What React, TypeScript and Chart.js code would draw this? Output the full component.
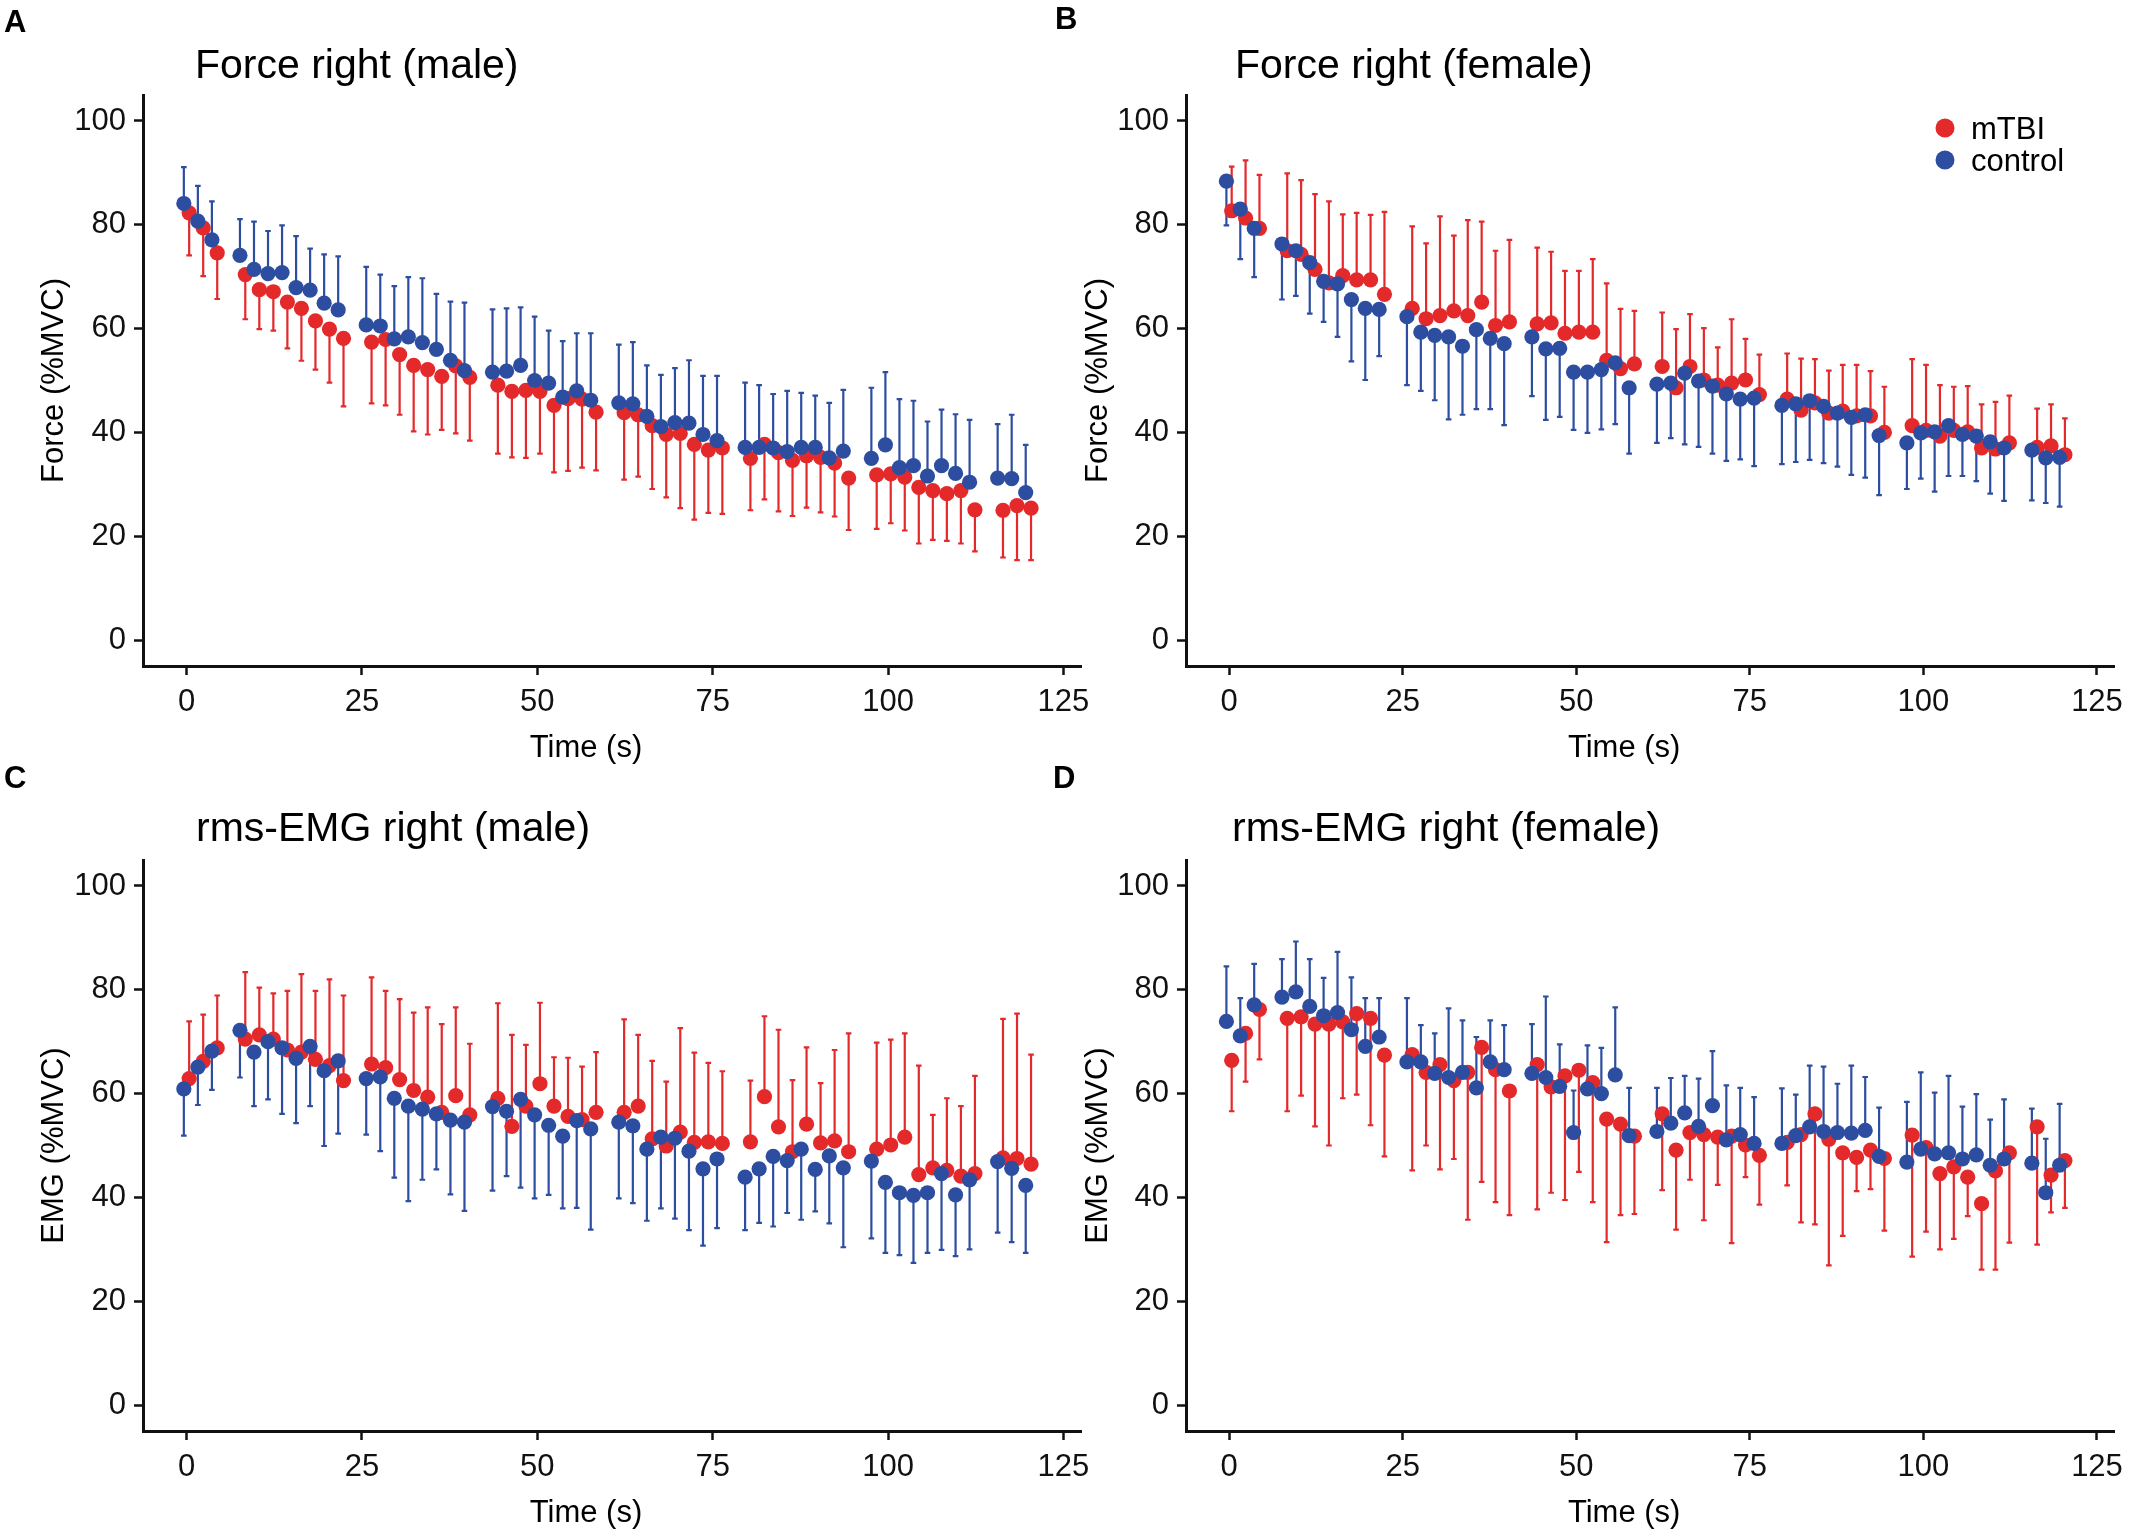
import { useEffect, useRef } from 'react';
import { Chart, registerables } from 'chart.js';

Chart.register(...registerables);

const W = 2132;
const H = 1530;
const FONT = '"Liberation Sans", Arial, Helvetica, sans-serif';
const RED = '#E4292B';
const BLUE = '#2C4DA0';
const INK = '#111111';

// ---- data ----
const TIME = [0, 2, 4, 8, 10, 12, 14, 16, 18, 20, 22, 26, 28, 30, 32, 34, 36, 38, 40, 44, 46, 48, 50, 52, 54, 56, 58, 62, 64, 66, 68, 70, 72, 74, 76, 80, 82, 84, 86, 88, 90, 92, 94, 98, 100, 102, 104, 106, 108, 110, 112, 116, 118, 120];
const X_TICKS = [0, 25, 50, 75, 100, 125];
const Y_TICKS = [0, 20, 40, 60, 80, 100];
const SERIES = ['mTBI', 'control'];

// Panel A: Force right (male)
const A_MTBI = [82.3, 79.4, 74.6, 70.4, 67.5, 67.1, 65.1, 63.9, 61.5, 59.9, 58.1, 57.4, 57.9, 55.0, 52.9, 52.1, 50.8, 52.8, 50.6, 49.1, 47.9, 48.1, 47.9, 45.2, 46.5, 46.4, 43.9, 43.8, 43.4, 41.3, 39.6, 39.8, 37.7, 36.6, 37.0, 35.0, 37.7, 36.1, 34.6, 35.5, 35.2, 34.1, 31.2, 31.8, 32.0, 31.4, 29.4, 28.8, 28.2, 28.8, 25.1, 25.0, 25.9, 25.4];
const A_MTBI_SD = [8.2, 9.3, 8.9, 8.6, 7.6, 7.5, 8.9, 10.1, 9.4, 10.3, 13.1, 11.8, 12.7, 11.6, 12.7, 12.5, 10.3, 13.0, 12.2, 13.2, 12.7, 13.0, 12.0, 12.9, 13.9, 13.2, 11.2, 12.9, 11.9, 12.2, 12.1, 14.4, 14.5, 12.1, 12.7, 10.0, 10.6, 11.3, 10.7, 10.0, 10.6, 10.3, 10.0, 10.4, 9.5, 10.3, 10.8, 9.5, 9.1, 10.2, 8.0, 9.1, 10.5, 10.0];
const A_CTRL = [84.1, 80.7, 77.1, 74.1, 71.4, 70.6, 70.8, 67.9, 67.4, 64.9, 63.6, 60.7, 60.5, 58.0, 58.4, 57.3, 56.0, 53.9, 51.9, 51.6, 51.8, 52.9, 50.0, 49.5, 46.8, 48.0, 46.2, 45.7, 45.5, 43.1, 41.1, 41.9, 41.8, 39.6, 38.4, 37.1, 37.1, 37.0, 36.3, 37.1, 37.1, 35.1, 36.4, 35.0, 37.6, 33.2, 33.6, 31.6, 33.6, 32.1, 30.4, 31.2, 31.1, 28.4];
const A_CTRL_SD = [7.0, 6.8, 7.4, 7.0, 9.2, 8.2, 9.1, 9.9, 8.0, 9.4, 10.3, 11.2, 9.9, 10.2, 11.5, 12.4, 10.7, 11.3, 13.1, 12.1, 12.1, 11.2, 12.3, 10.1, 10.8, 11.1, 12.9, 11.2, 11.9, 9.8, 10.0, 10.5, 12.1, 11.3, 12.5, 12.5, 12.0, 10.4, 11.7, 10.5, 10.0, 10.6, 11.8, 13.6, 14.0, 13.2, 12.5, 10.5, 10.8, 11.4, 12.0, 10.4, 12.3, 9.2];

// Panel B: Force right (female)
const B_MTBI = [82.7, 81.3, 79.3, 75.0, 74.3, 71.4, 68.8, 70.2, 69.4, 69.4, 66.6, 63.9, 61.9, 62.5, 63.4, 62.5, 65.1, 60.6, 61.3, 60.9, 61.1, 59.1, 59.3, 59.3, 53.9, 52.3, 53.2, 52.7, 48.6, 52.7, 50.1, 49.1, 49.5, 50.1, 47.3, 46.4, 44.3, 45.7, 43.7, 44.1, 43.2, 43.2, 40.0, 41.3, 40.4, 39.3, 40.4, 40.1, 37.0, 36.8, 38.0, 37.1, 37.4, 35.7];
const B_MTBI_SD = [8.5, 11.1, 10.3, 14.9, 14.3, 14.5, 15.7, 11.8, 12.9, 12.5, 15.9, 15.8, 14.5, 19.1, 14.5, 18.4, 15.5, 14.4, 15.8, 14.7, 13.7, 12.0, 11.8, 14.1, 14.8, 11.5, 10.2, 10.4, 11.3, 10.1, 10.0, 7.3, 12.3, 7.9, 7.7, 8.8, 9.9, 8.4, 8.2, 8.9, 9.8, 8.6, 8.8, 12.8, 12.6, 9.8, 8.4, 8.8, 8.4, 9.1, 9.1, 7.5, 8.0, 7.0];
const B_CTRL = [88.4, 83.0, 79.3, 76.3, 75.0, 72.7, 69.1, 68.6, 65.6, 63.9, 63.7, 62.3, 59.3, 58.7, 58.4, 56.6, 59.8, 58.1, 57.1, 58.4, 56.1, 56.2, 51.6, 51.6, 52.1, 53.4, 48.6, 49.3, 49.5, 51.4, 49.9, 48.9, 47.4, 46.4, 46.6, 45.2, 45.5, 46.1, 45.0, 43.7, 42.9, 43.4, 39.4, 38.0, 39.9, 40.1, 41.3, 39.6, 39.3, 38.2, 37.0, 36.6, 35.1, 35.2];
const B_CTRL_SD = [8.5, 9.6, 9.4, 10.7, 8.7, 9.8, 7.8, 10.2, 11.9, 13.8, 9.0, 13.2, 11.3, 12.5, 15.9, 13.2, 15.3, 13.6, 15.7, 11.4, 13.7, 13.2, 11.1, 11.7, 11.5, 11.8, 12.7, 11.3, 10.6, 13.7, 12.7, 13.0, 12.9, 11.6, 13.1, 11.3, 11.2, 11.4, 10.9, 10.3, 11.1, 12.1, 11.5, 8.9, 8.8, 11.5, 9.7, 8.0, 8.7, 10.0, 10.2, 9.7, 8.7, 9.5];

// Panel C: rms-EMG right (male)
const C_MTBI = [62.9, 66.2, 68.8, 70.5, 71.3, 70.5, 68.4, 68.0, 66.6, 65.4, 62.5, 65.7, 65.0, 62.7, 60.6, 59.3, 56.4, 59.6, 55.9, 59.1, 53.7, 57.6, 61.9, 57.6, 55.6, 55.0, 56.4, 56.4, 57.6, 51.3, 49.9, 52.6, 50.6, 50.7, 50.4, 50.7, 59.4, 53.6, 48.8, 54.1, 50.5, 50.9, 48.8, 49.3, 50.1, 51.6, 44.4, 45.7, 45.2, 44.1, 44.6, 47.6, 47.5, 46.4];
const C_MTBI_SD = [11.0, 9.0, 10.1, 12.9, 9.1, 8.8, 11.4, 15.0, 13.2, 16.6, 16.4, 16.7, 14.8, 15.5, 15.0, 17.3, 17.0, 17.0, 13.7, 18.3, 17.6, 11.8, 15.6, 9.4, 11.3, 10.2, 11.6, 17.9, 13.7, 15.0, 12.4, 20.0, 17.3, 15.2, 13.9, 11.8, 15.5, 18.7, 13.8, 14.8, 11.5, 17.5, 22.8, 20.5, 20.3, 20.0, 21.0, 10.2, 13.9, 13.5, 18.8, 26.8, 27.9, 21.1];
const C_CTRL = [60.9, 65.1, 68.2, 72.2, 68.0, 70.0, 68.8, 66.8, 69.1, 64.4, 66.3, 62.9, 63.2, 59.1, 57.6, 57.0, 56.1, 54.9, 54.5, 57.5, 56.6, 58.9, 55.9, 53.9, 51.8, 54.8, 53.2, 54.5, 53.8, 49.3, 51.6, 51.4, 48.9, 45.5, 47.4, 43.9, 45.5, 47.9, 47.1, 49.3, 45.4, 48.0, 45.7, 47.0, 42.9, 40.9, 40.4, 40.9, 44.6, 40.5, 43.4, 46.9, 45.6, 42.3];
const C_CTRL_SD = [9.0, 7.3, 7.5, 9.1, 10.4, 11.1, 12.7, 12.5, 11.5, 14.5, 14.0, 10.8, 14.3, 15.3, 18.3, 13.6, 10.7, 14.3, 17.1, 16.2, 12.5, 17.0, 16.1, 13.4, 13.9, 16.8, 19.4, 14.7, 14.9, 13.8, 13.7, 15.5, 15.2, 14.8, 13.3, 10.2, 10.4, 13.5, 10.1, 13.6, 8.1, 13.0, 15.3, 14.9, 13.6, 12.0, 13.0, 11.6, 14.7, 11.8, 13.4, 13.7, 14.2, 13.0];

// Panel D: rms-EMG right (female)
const D_MTBI = [66.4, 71.6, 76.2, 74.5, 74.8, 73.4, 73.4, 73.8, 75.4, 74.5, 67.4, 67.5, 64.1, 65.6, 62.5, 64.1, 68.9, 64.6, 60.5, 65.6, 61.3, 63.4, 64.5, 62.1, 55.1, 54.1, 51.8, 56.1, 49.1, 52.5, 52.1, 51.6, 51.8, 50.1, 48.1, 50.6, 52.1, 56.1, 51.2, 48.6, 47.7, 49.1, 47.5, 52.0, 49.6, 44.6, 45.9, 43.9, 38.8, 45.1, 48.6, 53.6, 44.3, 47.1];
const D_MTBI_SD = [9.8, 9.3, 9.6, 17.9, 15.2, 19.7, 23.4, 14.7, 15.6, 20.6, 19.5, 22.3, 14.1, 20.2, 15.1, 28.4, 25.9, 25.5, 23.9, 27.9, 20.4, 23.9, 19.6, 23.0, 23.7, 17.5, 15.0, 14.7, 15.3, 9.1, 16.5, 9.2, 20.6, 6.2, 9.5, 8.3, 16.9, 21.3, 24.3, 16.0, 6.5, 7.5, 13.9, 23.4, 16.2, 14.6, 13.9, 7.5, 12.7, 19.0, 17.3, 22.7, 7.2, 9.1];
const D_CTRL = [73.9, 71.1, 77.1, 78.6, 79.6, 76.8, 75.0, 75.6, 72.3, 69.1, 70.9, 66.1, 66.1, 63.9, 63.1, 64.1, 61.1, 66.1, 64.6, 63.9, 63.1, 61.4, 52.5, 60.9, 60.0, 63.6, 51.9, 52.7, 54.3, 56.3, 53.7, 57.7, 51.1, 52.1, 50.4, 50.4, 51.9, 53.6, 52.7, 52.5, 52.4, 52.9, 47.9, 46.8, 49.3, 48.4, 48.6, 47.4, 48.2, 46.2, 47.4, 46.6, 40.9, 46.2];
const D_CTRL_SD = [10.6, 7.3, 7.9, 7.3, 9.7, 9.1, 7.3, 11.7, 10.1, 9.3, 7.5, 12.3, 7.1, 7.7, 13.3, 10.0, 9.8, 8.0, 8.6, 9.5, 15.6, 8.1, 8.1, 8.4, 8.8, 13.0, 9.2, 8.4, 8.7, 7.1, 9.2, 10.5, 10.5, 9.0, 8.9, 10.6, 7.9, 11.8, 12.5, 9.4, 13.0, 10.3, 9.4, 11.6, 14.8, 11.8, 14.8, 10.1, 11.7, 8.8, 11.5, 10.5, 10.4, 11.8];

// ---- layout ----
type Area = { left: number; top: number; right: number; bottom: number };
type PanelCfg = {
  letter: string;
  letterX: number;
  letterY: number;
  title: string;
  titleX: number;
  titleY: number;
  yTitle: string;
  yTitleX: number;
  area: Area;
  mtbi: number[];
  mtbiSd: number[];
  ctrl: number[];
  ctrlSd: number[];
  mtbiUp: boolean;
  legend: boolean;
};

const PANELS: PanelCfg[] = [
  { letter: 'A', letterX: 4, letterY: 32, title: 'Force right (male)', titleX: 195, titleY: 78, yTitle: 'Force (%MVC)', yTitleX: 54,
    area: { left: 143, top: 95, right: 1081, bottom: 666 }, mtbi: A_MTBI, mtbiSd: A_MTBI_SD, ctrl: A_CTRL, ctrlSd: A_CTRL_SD, mtbiUp: false, legend: false },
  { letter: 'B', letterX: 1055, letterY: 29, title: 'Force right (female)', titleX: 1235, titleY: 78, yTitle: 'Force (%MVC)', yTitleX: 1098,
    area: { left: 1186, top: 95, right: 2124, bottom: 666 }, mtbi: B_MTBI, mtbiSd: B_MTBI_SD, ctrl: B_CTRL, ctrlSd: B_CTRL_SD, mtbiUp: true, legend: true },
  { letter: 'C', letterX: 4, letterY: 788, title: 'rms-EMG right (male)', titleX: 196, titleY: 841, yTitle: 'EMG (%MVC)', yTitleX: 54,
    area: { left: 143, top: 860, right: 1081, bottom: 1431 }, mtbi: C_MTBI, mtbiSd: C_MTBI_SD, ctrl: C_CTRL, ctrlSd: C_CTRL_SD, mtbiUp: true, legend: false },
  { letter: 'D', letterX: 1053, letterY: 788, title: 'rms-EMG right (female)', titleX: 1232, titleY: 841, yTitle: 'EMG (%MVC)', yTitleX: 1098,
    area: { left: 1186, top: 860, right: 2124, bottom: 1431 }, mtbi: D_MTBI, mtbiSd: D_MTBI_SD, ctrl: D_CTRL, ctrlSd: D_CTRL_SD, mtbiUp: false, legend: false },
];

const Y_AXIS_W = 90;
const X_AXIS_H = 60;
const DODGE = 0.38;
const DOT_R = 7.6;

const errorBarPlugin = {
  id: 'errorBars',
  beforeDatasetsDraw(chart: any) {
    const ctx = chart.ctx;
    const yScale = chart.scales.y;
    const dsList = chart.data.datasets;
    // draw mTBI (index 1) first, then control (index 0)
    [1, 0].forEach((di) => {
      const ds: any = dsList[di];
      const meta = chart.getDatasetMeta(di);
      ctx.save();
      ctx.strokeStyle = ds.backgroundColor;
      ctx.lineWidth = 2.2;
      meta.data.forEach((pt: any, i: number) => {
        const v = ds.data[i].y;
        const end = v + ds.errDir * ds.sd[i];
        const y0 = yScale.getPixelForValue(v);
        const y1 = yScale.getPixelForValue(end);
        ctx.beginPath();
        ctx.moveTo(pt.x, y0);
        ctx.lineTo(pt.x, y1);
        ctx.moveTo(pt.x - 2.8, y1);
        ctx.lineTo(pt.x + 2.8, y1);
        ctx.stroke();
      });
      ctx.restore();
    });
  },
};

function makeTextPlugin(p: PanelCfg) {
  return {
    id: 'panelText',
    afterDraw(chart: any) {
      const ctx = chart.ctx;
      const a = chart.chartArea;
      ctx.save();
      ctx.fillStyle = '#000';
      ctx.textBaseline = 'alphabetic';
      ctx.textAlign = 'left';
      ctx.font = `bold 31px ${FONT}`;
      ctx.fillText(p.letter, p.letterX, p.letterY);
      ctx.font = `41px ${FONT}`;
      ctx.fillText(p.title, p.titleX, p.titleY);
      // x axis title
      ctx.font = `31px ${FONT}`;
      ctx.textAlign = 'center';
      ctx.fillText('Time (s)', (a.left + a.right) / 2 - 26, a.bottom + 91);
      // y axis title
      ctx.save();
      ctx.translate(p.yTitleX, (a.top + a.bottom) / 2);
      ctx.rotate(-Math.PI / 2);
      ctx.textBaseline = 'middle';
      ctx.fillText(p.yTitle, 0, 0);
      ctx.restore();
      if (p.legend) {
        const items = [
          { label: SERIES[0], color: RED, y: 128 },
          { label: SERIES[1], color: BLUE, y: 160 },
        ];
        items.forEach((it) => {
          ctx.fillStyle = it.color;
          ctx.beginPath();
          ctx.arc(1945, it.y, 9.5, 0, Math.PI * 2);
          ctx.fill();
          ctx.fillStyle = '#000';
          ctx.textAlign = 'left';
          ctx.textBaseline = 'alphabetic';
          ctx.font = `31px ${FONT}`;
          ctx.fillText(it.label, 1971, it.y + 11);
        });
      }
      ctx.restore();
    },
  };
}

function Panel({ cfg }: { cfg: PanelCfg }) {
  const ref = useRef<HTMLCanvasElement | null>(null);
  useEffect(() => {
    if (!ref.current) return;
    const a = cfg.area;
    const dir = cfg.mtbiUp ? 1 : -1;
    const chart = new Chart(ref.current, {
      type: 'scatter',
      data: {
        datasets: [
          {
            label: SERIES[1],
            data: TIME.map((t, i) => ({ x: t - DODGE, y: cfg.ctrl[i] })),
            backgroundColor: BLUE,
            borderWidth: 0,
            pointRadius: DOT_R,
            order: 0,
            sd: cfg.ctrlSd,
            errDir: -dir,
          } as any,
          {
            label: SERIES[0],
            data: TIME.map((t, i) => ({ x: t + DODGE, y: cfg.mtbi[i] })),
            backgroundColor: RED,
            borderWidth: 0,
            pointRadius: DOT_R,
            order: 1,
            sd: cfg.mtbiSd,
            errDir: dir,
          } as any,
        ],
      },
      options: {
        responsive: false,
        animation: false,
        devicePixelRatio: 1,
        layout: {
          padding: {
            left: a.left - Y_AXIS_W,
            top: a.top,
            right: W - a.right,
            bottom: H - a.bottom - X_AXIS_H,
          },
        },
        plugins: {
          legend: { display: false },
          tooltip: { enabled: false },
          title: { display: false },
        },
        scales: {
          x: {
            type: 'linear',
            min: -6.2,
            max: 127.5,
            afterFit: (s: any) => { s.height = X_AXIS_H; },
            afterBuildTicks: (s: any) => { s.ticks = X_TICKS.map((v) => ({ value: v })); },
            grid: { display: true, drawOnChartArea: false, drawTicks: true, tickLength: 9, tickWidth: 2.5, tickColor: INK },
            border: { display: true, width: 3, color: INK },
            ticks: { font: { family: FONT, size: 31 }, color: INK, padding: 9, maxRotation: 0, autoSkip: false },
          },
          y: {
            type: 'linear',
            min: -5,
            max: 105,
            afterFit: (s: any) => { s.width = Y_AXIS_W; },
            afterBuildTicks: (s: any) => { s.ticks = Y_TICKS.map((v) => ({ value: v })); },
            grid: { display: true, drawOnChartArea: false, drawTicks: true, tickLength: 9, tickWidth: 2.5, tickColor: INK },
            border: { display: true, width: 3, color: INK },
            ticks: { font: { family: FONT, size: 31 }, color: INK, padding: 8, autoSkip: false },
          },
        },
      } as any,
      plugins: [errorBarPlugin, makeTextPlugin(cfg)],
    });
    return () => chart.destroy();
  }, [cfg]);
  return (
    <canvas
      ref={ref}
      width={W}
      height={H}
      style={{ position: 'absolute', left: 0, top: 0, width: W, height: H }}
    />
  );
}

export default function App() {
  return (
    <div style={{ position: 'absolute', left: 0, top: 0, width: W, height: H, background: '#ffffff', overflow: 'hidden' }}>
      {PANELS.map((p) => (
        <Panel key={p.letter} cfg={p} />
      ))}
    </div>
  );
}
